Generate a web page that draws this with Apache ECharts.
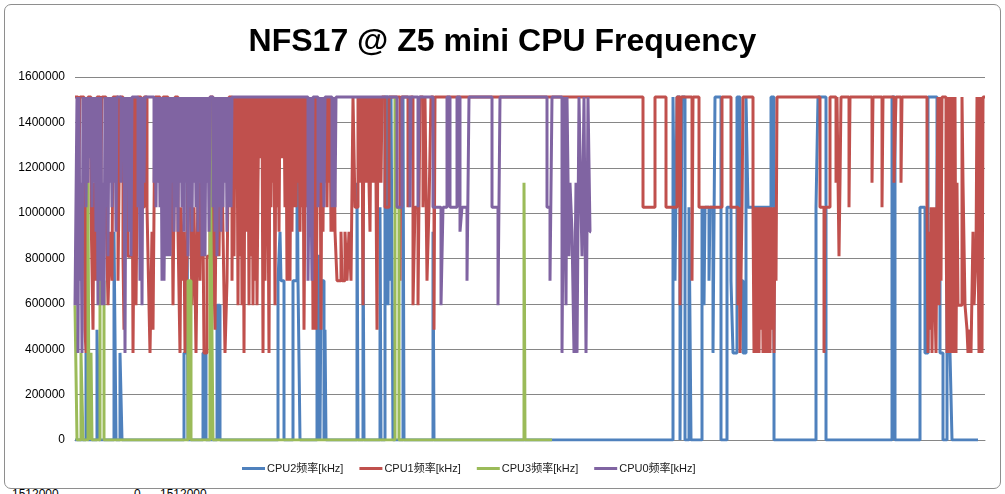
<!DOCTYPE html>
<html>
<head>
<meta charset="utf-8">
<script src="https://cdn.jsdelivr.net/npm/echarts@6/dist/echarts.min.js"></script>
<style>
html,body{margin:0;padding:0;background:#fff;overflow:hidden;}
#frame{position:absolute;left:4px;top:4px;width:995px;height:483px;border:1px solid #8e8e8e;border-radius:7px;background:#fff;}
#chart{position:absolute;left:0;top:0;width:1005px;height:494px;}
#cells{position:absolute;left:0;top:486px;width:1005px;height:12px;font:12px 'Liberation Sans',Arial,sans-serif;color:#000;}
#cells span{position:absolute;top:1px;}
</style>
</head>
<body>
<div id="frame"></div>
<div id="cells"><span style="left:12px">1512000</span><span style="left:134px">0</span><span style="left:160px">1512000</span></div>
<div id="chart"></div>
<script>
// Sample index (time order) and frequency in kHz at each change point.
const seriesNames = ['CPU2频率[kHz]', 'CPU1频率[kHz]', 'CPU3频率[kHz]', 'CPU0频率[kHz]'];
const yTicks = [0, 200000, 400000, 600000, 800000, 1000000, 1200000, 1400000, 1600000];

const cpu2 = [
[0,0],[11,384000],[13,0],[22,486000],[24,0],[39,918000],[41,0],[45,384000],[47,0],
[109,384000],[112,1134000],[113,0],[128,384000],[131,0],[142,594000],[145,0],
[203,702000],[205,918000],[206,702000],[209,0],[218,702000],[222,1512000],[223,702000],[225,0],
[242,810000],[245,0],[246,702000],[249,0],[250,486000],[251,0],
[282,1134000],[283,0],[288,1026000],[289,0],[305,1026000],[306,0],
[310,1512000],[313,594000],[314,1512000],[315,702000],[316,1512000],[318,0],
[328,1512000],[329,0],[358,918000],[359,0],
[598,1512000],[600,702000],[602,1512000],[605,0],[607,1512000],[610,0],[614,1026000],[616,0],
[627,1026000],[629,594000],[630,1026000],[634,702000],[635,1026000],[638,384000],[640,1512000],[646,0],
[652,1026000],[656,702000],[658,384000],[662,1512000],[665,702000],[668,384000],[671,1512000],[673,1026000],[696,1512000],[699,0],
[741,1026000],[743,1512000],[751,0],[817,1512000],[820,0],
[845,1026000],[850,384000],[853,1512000],[862,702000],[865,384000],[868,0],[872,702000],[875,384000],[877,0],[903,0]
];

const cpu1 = [
[0,1512000],[3,918000],[5,1512000],[9,1134000],[10,486000],[11,384000],[13,1512000],[16,1026000],[18,486000],[19,1134000],
[21,702000],[22,1512000],[25,918000],[27,1512000],[31,1026000],[33,594000],[35,918000],[37,702000],[38,1512000],[43,702000],
[45,1512000],[48,810000],[49,486000],[51,1512000],[53,810000],[57,1512000],[58,384000],[60,1512000],[61,594000],[63,1512000],
[66,1026000],[69,1512000],[72,1026000],[74,594000],[75,384000],[77,918000],[78,486000],[80,1512000],[85,1134000],[88,1512000],
[93,1026000],[97,1242000],[98,594000],[100,1512000],[103,918000],[105,384000],[106,1026000],[108,702000],[109,918000],[110,384000],
[112,810000],[113,1512000],[115,1134000],[117,594000],[119,1026000],[121,384000],[123,1134000],[125,702000],[127,1512000],[129,384000],
[132,810000],[135,1512000],[138,918000],[140,486000],[142,1512000],[144,810000],[146,1512000],[148,918000],[150,384000],[152,702000],
[154,1512000],[157,702000],[158,1512000],[159,810000],[160,1512000],[161,1134000],[162,1512000],[163,594000],[164,1512000],[165,810000],
[166,1512000],[167,594000],[168,1512000],[169,384000],[170,1512000],[172,918000],[173,1512000],[174,594000],[175,1512000],[176,810000],
[177,1512000],[178,594000],[179,1512000],[180,702000],[181,1512000],[182,594000],[183,1134000],[184,1512000],[186,1242000],[187,1512000],
[188,384000],[189,1512000],[190,702000],[191,1134000],[192,1512000],[193,1134000],[194,384000],[195,1512000],[196,1026000],[197,1512000],
[198,1134000],[199,1512000],[200,594000],[201,1512000],[202,1026000],[203,1512000],[204,918000],[205,1512000],[206,1242000],[207,1512000],
[208,1242000],[209,1512000],[210,1026000],[211,1512000],[212,702000],[213,1026000],[214,1512000],[215,702000],[216,1512000],[217,918000],
[218,1512000],[219,1026000],[220,1512000],[221,1026000],[222,1512000],[223,1134000],[224,1512000],[225,918000],[226,1512000],[227,1026000],
[228,1512000],[229,486000],[230,1134000],[231,1512000],[232,1026000],[233,1512000],[234,1134000],[235,1512000],[236,918000],[237,1512000],
[238,486000],[239,918000],[240,1512000],[241,486000],[242,1026000],[243,1512000],[244,1134000],[245,1512000],[246,486000],[247,1512000],
[248,918000],[249,1512000],[250,1134000],[251,1512000],[252,1026000],[253,1512000],[254,1134000],[255,1512000],[256,918000],[257,1512000],
[258,918000],[259,1512000],[260,918000],[262,702000],[266,918000],[267,702000],[270,918000],[272,702000],[274,918000],
[276,702000],[278,1512000],[280,1026000],[283,1512000],[284,1134000],[285,1512000],[286,1134000],[287,1512000],[288,594000],[289,1512000],
[290,1134000],[291,1512000],[292,1134000],[293,1512000],[294,1134000],[295,918000],[296,1512000],[297,1134000],[298,1512000],[299,1134000],
[300,1512000],[301,1134000],[302,486000],[303,1512000],[304,1134000],[305,1512000],[306,1134000],[307,1512000],
[310,1026000],[314,1512000],[325,702000],[326,1512000],
[333,1026000],[335,1512000],[338,594000],[340,1026000],[343,594000],[345,1512000],[348,1026000],[350,1512000],[352,702000],[354,1026000],
[356,1512000],[359,486000],[360,1512000],
[568,1026000],[580,1512000],[591,1026000],[602,1512000],[605,594000],[606,1512000],[617,702000],[618,1512000],[624,1026000],[647,1512000],
[656,1026000],[663,594000],[664,1026000],[665,384000],[667,1026000],[668,1512000],
[678,1026000],[679,384000],[680,1026000],[681,702000],[682,384000],[683,1026000],[684,384000],[685,1026000],[686,486000],[687,1026000],
[688,384000],[689,1026000],[690,384000],[691,1026000],[692,702000],[693,384000],[694,1026000],[695,384000],[696,1026000],[697,486000],
[698,1026000],[699,384000],[700,1026000],[701,702000],[702,1512000],
[745,1026000],[749,384000],[750,1026000],[755,1512000],[761,1134000],[762,1512000],[764,810000],[765,1134000],[766,1512000],[774,1026000],
[775,1512000],[797,1134000],[798,1512000],[807,1026000],[808,1512000],[819,1134000],[821,1512000],[826,1134000],[827,1512000],
[852,1026000],[853,384000],[854,918000],[855,486000],[856,1026000],[857,384000],[858,810000],[859,1026000],[860,594000],[861,384000],
[862,1026000],[863,1512000],[864,594000],[865,1512000],[866,702000],[867,1512000],[871,1026000],[872,384000],[873,1512000],[874,384000],
[875,1512000],[876,918000],[877,384000],[878,1512000],[879,384000],[880,1512000],[881,384000],[882,1134000],[883,594000],[887,1512000],
[888,1134000],[890,594000],[892,486000],[893,384000],[895,486000],[896,384000],[898,918000],[899,594000],[901,810000],[902,1512000],
[904,384000],[905,1512000],[907,384000],[908,1512000],[910,1512000]
];

const cpu3 = [
[0,594000],[2,0],[6,384000],[8,0],[13,1134000],[14,0],[16,384000],[17,0],[25,702000],[29,0],
[113,702000],[116,0],[135,1512000],[136,918000],[138,0],[320,1512000],[321,1026000],[324,0],
[449,1134000],[450,0],[477,0]
];

const cpu0 = [
[0,594000],[2,1512000],[3,384000],[4,1512000],[5,702000],[6,1134000],[7,384000],[8,1512000],[9,1134000],[10,1512000],
[11,1026000],[12,1512000],[13,1134000],[14,1512000],[15,1242000],[16,1512000],[17,1026000],[18,1512000],[19,1134000],[20,1512000],
[21,918000],[22,1512000],[23,594000],[24,1512000],[25,702000],[26,1512000],[27,594000],[28,1134000],[29,594000],[30,1512000],
[31,1026000],[32,1512000],[33,810000],[34,1512000],[35,1134000],[36,1512000],[37,1026000],[38,1512000],[39,1134000],[40,1512000],
[41,918000],[42,1512000],[46,1134000],[47,1512000],[48,1242000],[49,1512000],[50,384000],[51,1512000],[52,1134000],[53,1512000],
[54,918000],[55,1512000],[56,810000],[57,1512000],[63,1026000],[64,1512000],[65,702000],[66,1512000],[67,594000],[68,1512000],
[69,1134000],[70,1512000],[79,1134000],[80,1512000],[81,1026000],[82,1512000],[83,1134000],[84,1512000],[85,1026000],[86,1512000],
[87,702000],[88,1512000],[89,702000],[90,1134000],[91,1512000],[92,810000],[93,1512000],[94,1026000],[95,810000],[96,1512000],
[97,1134000],[98,1512000],[99,918000],[100,1512000],[101,1026000],[102,1512000],[103,918000],[104,1512000],[105,1134000],[106,1512000],
[107,1026000],[108,1512000],[109,918000],[110,1512000],[111,1134000],[112,1512000],[113,810000],[114,1512000],[115,1026000],[116,1512000],
[117,918000],[118,1512000],[119,1134000],[120,1512000],[121,1026000],[122,1512000],[123,918000],[124,1512000],[125,1134000],[126,1512000],
[127,810000],[128,1512000],[129,1026000],[130,810000],[131,1512000],[132,1134000],[133,1512000],[134,918000],[135,1512000],[138,1026000],
[139,1512000],[140,918000],[141,1512000],[142,810000],[143,1512000],[144,1026000],[145,1512000],[146,918000],[147,1512000],[148,1026000],
[149,1512000],[150,1134000],[151,1512000],[152,918000],[153,1512000],[154,1026000],[155,1512000],[156,1026000],[157,1512000],
[233,702000],[235,1512000],[237,702000],[238,1512000],[243,1026000],[244,1512000],[246,1134000],[247,1512000],[249,1026000],[250,1512000],
[257,1026000],[258,1512000],[260,1026000],[261,1512000],
[322,1026000],[327,1512000],[335,1026000],[336,1512000],[343,1026000],[344,1512000],
[358,1026000],[366,594000],[368,1026000],[372,1512000],[375,1026000],[382,1512000],[385,918000],[387,1026000],[392,702000],[394,1512000],
[417,1026000],[423,594000],[425,1512000],[472,1026000],[475,702000],[477,1512000],
[487,384000],[489,1512000],[491,594000],[492,1512000],[494,810000],[495,1134000],[497,918000],[499,384000],[501,1134000],[502,384000],
[504,1512000],[506,1026000],[507,810000],[509,1512000],[511,384000],[512,918000],[513,1512000],[515,918000],[516,918000]
];

const colors = ['#4F81BD', '#C0504D', '#9BBB59', '#8064A2'];
const seriesData = [cpu2, cpu1, cpu3, cpu0];

const chart = echarts.init(document.getElementById('chart'), null, {renderer: 'canvas'});
chart.setOption({
  animation: false,
  backgroundColor: 'transparent',
  title: {
    text: 'NFS17 @ Z5 mini CPU Frequency',
    left: 'center',
    top: 21,
    textStyle: {fontFamily: "'Liberation Sans', Arial, sans-serif", fontWeight: 'bold', fontSize: 32, color: '#000'}
  },
  legend: {
    bottom: 20,
    left: 242,
    padding: 0,
    itemWidth: 23,
    itemHeight: 3,
    itemGap: 16,
    icon: 'rect',
    textStyle: {fontFamily: "'Liberation Sans', 'Noto Sans CJK SC', sans-serif", fontSize: 11, color: '#1a1a1a', padding: [0,0,0,-3]},
    data: seriesNames
  },
  grid: {left: 75, right: 20, top: 77, bottom: 54, containLabel: false},
  xAxis: {
    type: 'value', min: 0, max: 910,
    axisLine: {show: true, lineStyle: {color: '#868686'}},
    axisTick: {show: false}, axisLabel: {show: false}, splitLine: {show: false}
  },
  yAxis: {
    type: 'value', min: yTicks[0], max: yTicks[yTicks.length - 1], interval: yTicks[1] - yTicks[0],
    axisLine: {show: false}, axisTick: {show: false},
    axisLabel: {fontFamily: "'Liberation Sans', Arial, sans-serif", fontSize: 12, color: '#000', margin: 10,
      formatter: v => String(v)},
    splitLine: {lineStyle: {color: '#868686', width: 1}}
  },
  series: seriesData.map((d, i) => ({
    name: seriesNames[i],
    type: 'line',
    step: 'end',
    data: d,
    showSymbol: false,
    symbol: 'none',
    color: colors[i],
    lineStyle: {width: 3, color: colors[i]},
    emphasis: {disabled: true}
  }))
});
</script>
</body>
</html>
